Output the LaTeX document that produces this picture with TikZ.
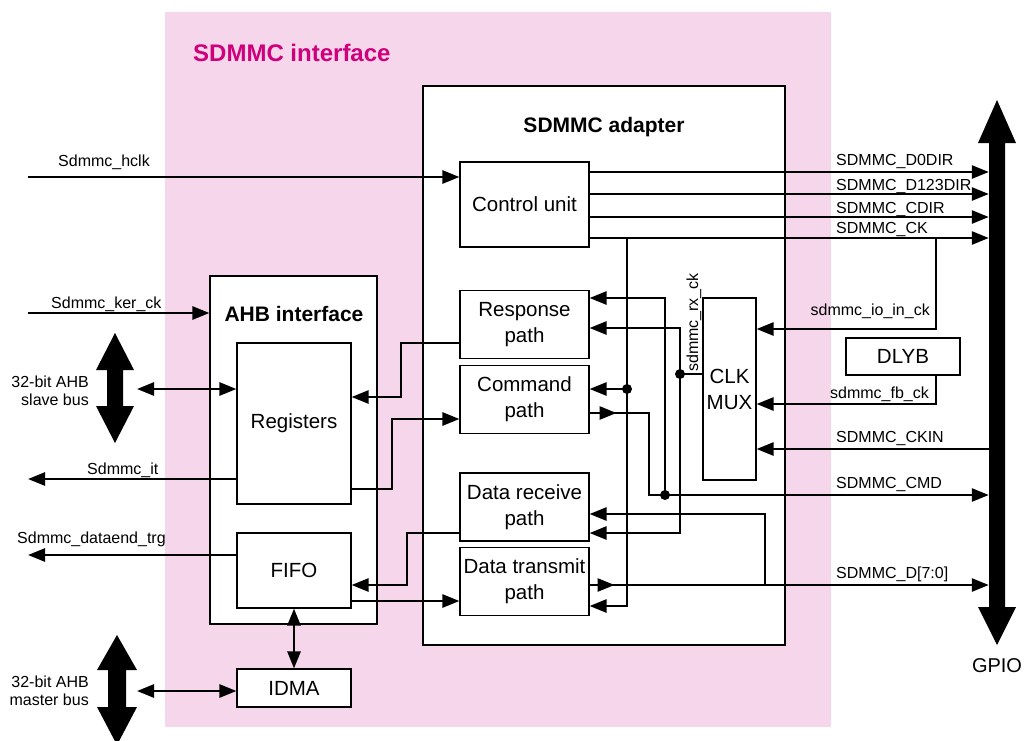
\documentclass[tikz,border=0pt]{standalone}
\usepackage{fontspec}
\setmainfont{Liberation Sans}
\usetikzlibrary{arrows.meta,decorations.markings}
\definecolor{pinkbg}{RGB}{246,214,234}
\definecolor{magtitle}{RGB}{206,0,124}
\begin{document}
\begin{tikzpicture}[x=1pt,y=-1pt,
  box/.style={draw,line width=1.1pt,fill=white,inner sep=0pt,align=center,font=\fontsize{20.5}{26}\selectfont},
  sig/.style={line width=2.6pt},
  arr/.style={sig,-{Triangle[length=17pt,width=13pt]}},
  darr/.style={sig,{Triangle[length=17pt,width=13pt]}-{Triangle[length=17pt,width=13pt]}},
  lbl/.style={inner sep=0pt,font=\fontsize{16}{18}\selectfont},
  ttl/.style={inner sep=0pt,font=\fontsize{21}{25}\selectfont\bfseries},
  jdot/.style={circle,fill,inner sep=0pt,minimum size=10pt},
  midarr/.style={postaction={decorate},decoration={markings,mark=at position #1 with {\arrow{Triangle[length=17pt,width=13pt]}}}},
]
\useasboundingbox (0,0) rectangle (1026,740);
\clip (0,0) rectangle (1026,740);
\fill[white] (0,0) rectangle (1026,740);
% pink interface area
\fill[pinkbg] (165,12) rectangle (831,727);
\node[inner sep=0pt,anchor=base west,text=magtitle,font=\fontsize{24}{28}\selectfont\bfseries] (ititle) at (193,61) {SDMMC interface};

% big boxes
\node[box,minimum width=362pt,minimum height=559pt] (adapter) at (604,365.5) {};
\node[ttl,anchor=base] (atitle) at (604,132) {SDMMC adapter};
\node[box,minimum width=167pt,minimum height=348pt] (ahb) at (293.5,450) {};
\node[ttl,anchor=base] (htitle) at (294,321.5) {AHB interface};

% inner boxes
\node[box,minimum width=114pt,minimum height=161pt] (regs) at (294,423.5) {Registers};
\node[box,minimum width=114pt,minimum height=75pt] (fifo) at (294,570.5) {FIFO};
\node[box,minimum width=114pt,minimum height=38pt] (idma) at (294,688) {IDMA};
\node[box,minimum width=129pt,minimum height=85pt] (ctrl) at (524.5,204.5) {Control unit};
\node[box,minimum width=129pt,minimum height=68pt] (resp) at (524.5,324.5) {Response\\path};
\node[box,minimum width=129pt,minimum height=68pt] (cmd) at (524.5,399.5) {Command\\path};
\node[box,minimum width=129pt,minimum height=68pt] (drx) at (524.5,507) {Data receive\\path};
\node[box,minimum width=129pt,minimum height=68pt] (dtx) at (524.5,581.5) {Data transmit\\path};
\node[box,minimum width=53pt,minimum height=182pt] (mux) at (729.5,389) {CLK\\MUX};
\node[box,minimum width=114pt,minimum height=37pt] (dlyb) at (903,356.5) {DLYB};

% big bus arrows
\fill (115,333) -- (134,370) -- (123,370) -- (123,406) -- (134,406) -- (115,443) -- (96,406) -- (107,406) -- (107,370) -- (96,370) -- cycle;
\fill (117,635) -- (137,670) -- (126,670) -- (126,707) -- (137,707) -- (117,745) -- (97,707) -- (108,707) -- (108,670) -- (97,670) -- cycle;
\fill (997,100) -- (1016,143) -- (1005,143) -- (1005,607) -- (1016,607) -- (997,645) -- (978,607) -- (989,607) -- (989,143) -- (978,143) -- cycle;
\node[inner sep=0pt,minimum width=16pt,minimum height=460pt] (gpio) at (997,375) {};
\node[inner sep=0pt,anchor=base,font=\fontsize{20}{22}\selectfont] (gpiolbl) at (997,672) {GPIO};

\node[lbl,align=right,anchor=east] (slavelbl) at (89,391) {32-bit AHB\\slave bus};
\node[lbl,align=right,anchor=east] (masterlbl) at (89,691) {32-bit AHB\\master bus};

% free ends
\coordinate (hclkL) at (28,177);
\coordinate (kerL) at (28,313);
\coordinate (itL) at (28,479);
\coordinate (deL) at (28,555);
\coordinate (slaveR) at (137,389);
\coordinate (masterR) at (137,691);

% left side signals
\draw[arr] (hclkL) -- (ctrl.west |- hclkL);
\node[lbl,anchor=base west] at (58,166) {Sdmmc\_hclk};
\draw[arr] (kerL) -- (ahb.west |- kerL);
\node[lbl,anchor=base west] at (51,308) {Sdmmc\_ker\_ck};
\draw[arr] (regs.west |- itL) -- (itL);
\node[lbl,anchor=base west] at (87,474) {Sdmmc\_it};
\draw[arr] (fifo.west |- deL) -- (deL);
\node[lbl,anchor=base west] at (17,543) {Sdmmc\_dataend\_trg};
\draw[darr] (slaveR) -- (regs.west |- slaveR);
\draw[darr] (masterR) -- (idma.west |- masterR);
\draw[darr] (fifo.south) -- (idma.north);

% AHB <-> adapter
\coordinate (c401) at (401,0);
\coordinate (c392) at (392,0);
\coordinate (c407) at (407,0);
\draw[arr] (resp.west |- 0,343) -| (c401 |- 0,397) -- (regs.east |- 0,397);
\draw[arr] (regs.east |- 0,489) -| (c392 |- 0,419) -- (cmd.west |- 0,419);
\draw[arr] (drx.west |- 0,533) -| (c407 |- 0,585) -- (fifo.east |- 0,585);
\draw[arr] (fifo.east |- 0,601) -- (dtx.west |- 0,601);

% control unit outputs
\draw[arr] (ctrl.east |- 0,172) -- (gpio.west |- 0,172);
\draw[arr] (ctrl.east |- 0,194) -- (gpio.west |- 0,194);
\draw[arr] (ctrl.east |- 0,217) -- (gpio.west |- 0,217);
\draw[arr] (ctrl.east |- 0,238) -- (gpio.west |- 0,238);
\node[lbl,anchor=base west] at (836,165) {SDMMC\_D0DIR};
\node[lbl,anchor=base west] at (836,190) {SDMMC\_D123DIR};
\node[lbl,anchor=base west] at (836,213) {SDMMC\_CDIR};
\node[lbl,anchor=base west] at (836,233) {SDMMC\_CK};

% CK feedback into adapter
\coordinate (ckA) at (627,238);
\coordinate (ckB) at (627,389);
\draw[arr] (ckA) |- (dtx.east |- 0,606);
\draw[arr] (ckB) -- (cmd.east |- ckB);
\node[jdot] at (ckB) {};

% clocks into CLK MUX
\coordinate (ckC) at (936,238);
\coordinate (c936) at (936,0);
\draw[arr] (ckC) |- (mux.east |- 0,329);
\node[lbl,anchor=base east] at (930,315) {sdmmc\_io\_in\_ck};
\draw[arr] (dlyb.south -| c936) |- (mux.east |- 0,404);
\node[lbl,anchor=base east] at (929,398) {sdmmc\_fb\_ck};
\draw[arr] (gpio.west |- 0,449) -- (mux.east |- 0,449);
\node[lbl,anchor=base west] at (836,442) {SDMMC\_CKIN};

% CMD
\coordinate (c649) at (649,0);
\draw[arr,midarr=27pt] (cmd.east |- 0,413) -| (c649 |- 0,495) -- (gpio.west |- 0,495);
\node[lbl,anchor=base west] at (836,488) {SDMMC\_CMD};
\coordinate (cmdJ) at (665,495);
\draw[arr] (cmdJ) |- (resp.east |- 0,298);
\node[jdot] at (cmdJ) {};

% rx clock
\coordinate (rxJ) at (680,374);
\draw[sig] (mux.west |- rxJ) -- (rxJ);
\draw[arr] (rxJ) |- (resp.east |- 0,328);
\draw[arr] (rxJ) |- (drx.east |- 0,533);
\node[jdot] at (rxJ) {};
\node[lbl,rotate=90,anchor=base west] at (698,372) {sdmmc\_rx\_ck};

% data
\draw[arr,midarr=25pt] (dtx.east |- 0,585) -- (gpio.west |- 0,585);
\node[lbl,anchor=base west] at (836,578) {SDMMC\_D[7:0]};
\coordinate (dJ) at (765,585);
\draw[arr] (dJ) |- (drx.east |- 0,514);
\end{tikzpicture}
\end{document}
